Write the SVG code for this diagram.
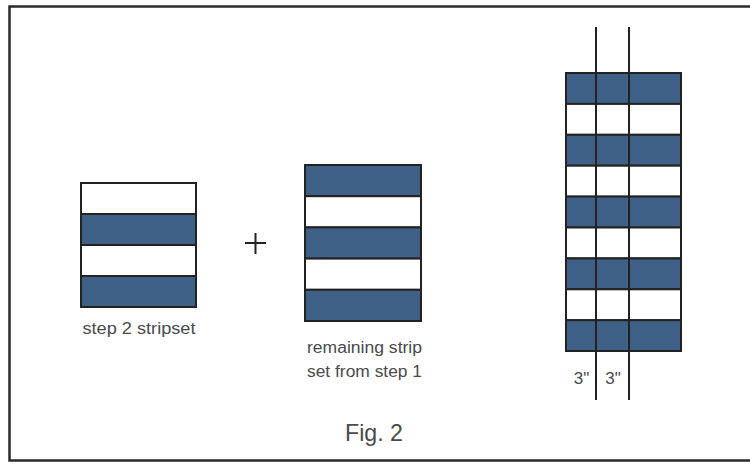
<svg xmlns="http://www.w3.org/2000/svg" width="750" height="464" viewBox="0 0 750 464">
<style>
.b{fill:#3f6087;stroke:#222;stroke-width:2}
.w{fill:#fff;stroke:#222;stroke-width:2}
.t{font-family:"Liberation Sans",Arial,sans-serif;fill:#4a4a4a;text-anchor:middle}
.ln{stroke:#222;stroke-width:2;fill:none}
</style>
<rect x="0" y="0" width="750" height="464" fill="#fff"/>
<rect x="9.5" y="6.5" width="750" height="454" fill="none" stroke="#2a2a2a" stroke-width="2.5"/>
<g id="stripset2">
<rect class="w" x="81" y="183" width="115" height="31"/>
<rect class="b" x="81" y="214" width="115" height="31"/>
<rect class="w" x="81" y="245" width="115" height="31"/>
<rect class="b" x="81" y="276" width="115" height="31"/>
<text class="t" x="139" y="334" font-size="16" textLength="113" lengthAdjust="spacingAndGlyphs">step 2 stripset</text>
</g>
<g id="plus">
<path class="ln" d="M245 243H266M255.5 233V254" stroke-width="1.5"/>
</g>
<g id="remaining">
<rect class="b" x="305" y="165" width="116" height="31.2"/>
<rect class="w" x="305" y="196.2" width="116" height="31.2"/>
<rect class="b" x="305" y="227.4" width="116" height="31.2"/>
<rect class="w" x="305" y="258.6" width="116" height="31.2"/>
<rect class="b" x="305" y="289.8" width="116" height="31.2"/>
<text class="t" x="364.5" y="353" font-size="16" textLength="115" lengthAdjust="spacingAndGlyphs">remaining strip</text>
<text class="t" x="364.5" y="377" font-size="16" textLength="115" lengthAdjust="spacingAndGlyphs">set from step 1</text>
</g>
<g id="cutset">
<rect class="b" x="566" y="73" width="115" height="30.9"/>
<rect class="w" x="566" y="103.9" width="115" height="30.9"/>
<rect class="b" x="566" y="134.8" width="115" height="30.9"/>
<rect class="w" x="566" y="165.7" width="115" height="30.9"/>
<rect class="b" x="566" y="196.6" width="115" height="30.9"/>
<rect class="w" x="566" y="227.5" width="115" height="30.9"/>
<rect class="b" x="566" y="258.4" width="115" height="30.9"/>
<rect class="w" x="566" y="289.3" width="115" height="30.9"/>
<rect class="b" x="566" y="320.2" width="115" height="30.8"/>
<text class="t" x="581.5" y="384" font-size="17">3"</text>
<text class="t" x="613" y="384" font-size="17">3"</text>
</g>
<g id="connectors">
<line class="ln" x1="596" y1="27" x2="596" y2="400"/>
<line class="ln" x1="629" y1="27" x2="629" y2="400"/>
</g>
<text class="t" x="374" y="441" font-size="24" textLength="58" lengthAdjust="spacingAndGlyphs">Fig. 2</text>
</svg>
